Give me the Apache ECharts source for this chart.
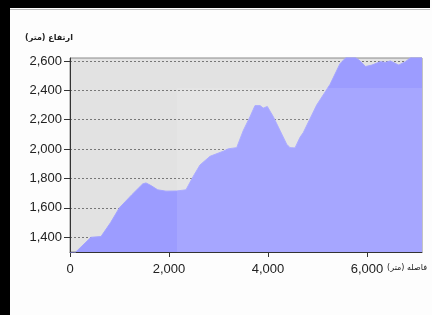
<!DOCTYPE html>
<html>
<head>
<meta charset="utf-8">
<script src="https://cdn.jsdelivr.net/npm/echarts@6/dist/echarts.min.js"></script>
<style>
  html, body { margin: 0; padding: 0; background: #fdfdfd; }
  #chart { width: 432px; height: 315px; }
</style>
</head>
<body>
<div id="chart"></div>
<script>
  // distance along the route (m) and elevation (m)
  const distance = [0, 424, 626, 820, 996, 1250, 1468, 1535, 1636, 1771, 1939, 2150, 2343, 2490, 2626, 2828, 3097, 3198, 3232, 3367, 3501, 3636, 3737, 3838, 3905, 3986, 4107, 4242, 4377, 4444, 4545, 4646, 4713, 4983, 5252, 5454, 5580, 5760, 5860, 5970, 6100, 6270, 6370, 6470, 6640, 6775, 6910, 7110];
  const elevation = [1262, 1400, 1405, 1500, 1600, 1690, 1763, 1770, 1752, 1723, 1714, 1715, 1723, 1815, 1892, 1951, 1986, 2002, 1990, 2010, 2127, 2220, 2296, 2296, 2279, 2290, 2220, 2127, 2033, 2010, 2008, 2080, 2113, 2300, 2440, 2581, 2625, 2625, 2600, 2562, 2572, 2595, 2590, 2600, 2572, 2595, 2630, 2640];
  const yTicks = [1400, 1600, 1800, 2000, 2200, 2400, 2600];
  const xTicks = [0, 2000, 4000, 6000];

  const fmt = v => Number(v).toLocaleString("en-US");
  const chart = echarts.init(document.getElementById("chart"));

  const option = {
    backgroundColor: "#fdfdfd",
    animation: false,
    grid: {
      left: 70, right: 10, top: 58, bottom: 63,
      show: true,
      backgroundColor: "#e2e2e2",
      borderColor: "#8a8a8a",
      borderWidth: 1
    },
    xAxis: {
      type: "value",
      min: 0,
      max: 7110,
      axisLine: { show: true, lineStyle: { color: "#333", width: 1 } },
      axisTick: { show: true, length: 5, customValues: xTicks, lineStyle: { color: "#333" } },
      axisLabel: {
        customValues: xTicks,
        formatter: fmt,
        margin: 11,
        color: "#222",
        fontSize: 13,
        fontFamily: "Liberation Sans, Arial, sans-serif"
      },
      splitLine: { show: false }
    },
    yAxis: {
      type: "value",
      min: 1300,
      max: 2620,
      axisLine: { show: true, lineStyle: { color: "#333", width: 1 } },
      axisTick: { show: true, length: 6, customValues: yTicks, lineStyle: { color: "#333" } },
      axisLabel: {
        customValues: yTicks,
        formatter: fmt,
        margin: 8,
        color: "#222",
        fontSize: 13,
        fontFamily: "Liberation Sans, Arial, sans-serif"
      },
      splitLine: { show: true, lineStyle: { color: "#777", type: [2, 2], width: 1 } }
    },
    series: [{
      type: "line",
      data: distance.map((d, i) => [d, elevation[i]]),
      symbol: "none",
      lineStyle: { width: 1, color: "#a3a3ff" },
      areaStyle: { color: "#9c9cff", opacity: 1 },
      clip: true
    }],
    graphic: [
      // lighter overlay block over the lower right of the plot
      { type: "rect", z: 50, silent: true, shape: { x: 177, y: 88, width: 245, height: 164 }, style: { fill: "rgba(255,255,255,0.10)" } },
      { type: "text", left: 25, top: 34, style: { text: "ارتفاع (متر)", fontSize: 8, fontWeight: "bold", fontFamily: "DejaVu Sans", fill: "#222" } },
      { type: "text", right: 5, top: 264, style: { text: "فاصله (متر)", fontSize: 8, fontFamily: "DejaVu Sans", fill: "#222" } },
      // black frame on the top and left edges
      { type: "rect", z: 60, silent: true, shape: { x: 0, y: 0, width: 430, height: 8 }, style: { fill: "#000" } },
      { type: "rect", z: 60, silent: true, shape: { x: 0, y: 9, width: 430, height: 1 }, style: { fill: "#bbb" } },
      { type: "rect", z: 60, silent: true, shape: { x: 0, y: 0, width: 10, height: 315 }, style: { fill: "#000" } }
    ]
  };

  chart.setOption(option);
</script>
</body>
</html>
